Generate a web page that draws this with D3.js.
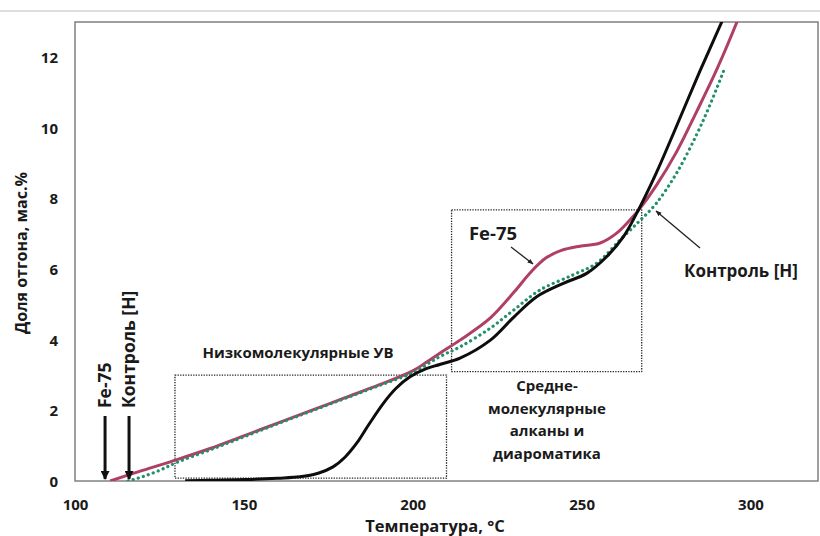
<!DOCTYPE html>
<html><head><meta charset="utf-8">
<script src="https://cdn.jsdelivr.net/npm/d3@7"></script>
<style>
html,body{margin:0;padding:0;background:#fff;}
svg text{font-family:"Open Sans",sans-serif;font-weight:700;fill:#1a1a1a;}
</style></head>
<body><svg id="c" width="820" height="536"></svg>
<script>
// ---- data ----
const xTicks = [100, 150, 200, 250, 300];
const yTicks = [0, 2, 4, 6, 8, 10, 12];

const fe75T = [110.4, 120, 130, 140, 150, 160, 170, 180, 190, 200, 204, 208, 214, 223, 230, 235, 239.5, 244, 249.5, 255.5, 260.4, 264.3, 267.3, 272, 278, 284, 290, 296, 297.2];
const fe75V = [0, 0.3, 0.6, 0.92, 1.28, 1.64, 2.0, 2.36, 2.72, 3.12, 3.36, 3.62, 3.99, 4.62, 5.35, 5.92, 6.32, 6.53, 6.65, 6.74, 7.02, 7.39, 7.72, 8.35, 9.3, 10.45, 11.65, 13.0, 13.3];

const blackT = [132.6, 140, 150, 160, 166.6, 172, 176.4, 180, 183.4, 187, 191.3, 195, 199.2, 204, 208, 214, 223, 230, 236.7, 244.6, 251.5, 257.4, 262.4, 266.3, 272, 277, 285, 291.5, 292.8];
const blackV = [0.01, 0.02, 0.04, 0.08, 0.12, 0.22, 0.4, 0.68, 1.07, 1.6, 2.2, 2.62, 2.95, 3.18, 3.3, 3.48, 3.99, 4.65, 5.22, 5.6, 5.88, 6.35, 6.92, 7.58, 8.7, 9.8, 11.6, 13.0, 13.3];

const controlT = [115.7, 120, 125, 130, 140, 150, 160, 170, 180, 190, 200, 208, 214, 223, 230, 237.7, 247.5, 254.5, 261.4, 267, 272, 278, 284, 288, 292];
const controlV = [0, 0.12, 0.3, 0.52, 0.88, 1.25, 1.62, 1.98, 2.34, 2.7, 3.07, 3.52, 3.8, 4.33, 4.85, 5.41, 5.84, 6.17, 6.83, 7.35, 7.85, 8.7, 9.8, 10.65, 11.6];

// annotation regions (data units)
const boxLowT = [129.6, 210]; const boxLowV = [0.08, 3.0];
const boxMidT = [211.5, 267.8]; const boxMidV = [3.1, 7.68];
const boxLowLabel = ["Низкомолекулярные УВ"];
const boxMidLabel = ["Средне-", "молекулярные", "алканы и", "диароматика"];
const startT = [108.9, 116.0];
const startLabels = ["Fe-75", "Контроль [H]"];

// ---- chart ----
const svg = d3.select("#c");
const L = 75, R = 818, T = 22, B = 481;
const x = d3.scaleLinear().domain([100, 320]).range([L, R]);
const y = d3.scaleLinear().domain([0, 13]).range([B, T]);

svg.append("line").attr("x1", 0).attr("x2", 820).attr("y1", 11).attr("y2", 11)
  .attr("stroke", "#d2d2d2").attr("stroke-width", 1.5);

const defs = svg.append("defs");
defs.append("clipPath").attr("id", "clip").append("rect")
  .attr("x", L).attr("y", T).attr("width", R - L).attr("height", B - T);
defs.append("marker").attr("id", "ah").attr("viewBox", "0 0 10 10")
  .attr("refX", 9).attr("refY", 5).attr("markerWidth", 9).attr("markerHeight", 9)
  .attr("markerUnits", "userSpaceOnUse").attr("orient", "auto")
  .append("path").attr("d", "M0,0 L10,5 L0,10 Z").attr("fill", "#111");
defs.append("marker").attr("id", "ahs").attr("viewBox", "0 0 10 10")
  .attr("refX", 9).attr("refY", 5).attr("markerWidth", 6).attr("markerHeight", 6)
  .attr("markerUnits", "userSpaceOnUse").attr("orient", "auto")
  .append("path").attr("d", "M0,1 L10,5 L0,9 Z").attr("fill", "#222");

// frame
svg.append("rect").attr("x", L).attr("y", T).attr("width", R - L).attr("height", B - T)
  .attr("fill", "none").attr("stroke", "#808080").attr("stroke-width", 1.5);

// axes (labels only)
const xAxis = d3.axisBottom(x).tickValues(xTicks).tickSize(0).tickPadding(0);
const gx = svg.append("g").attr("transform", `translate(0,${B})`).call(xAxis);
gx.select(".domain").remove();
gx.selectAll("text").attr("dy", "0").attr("y", 29).style("font-size", "15px").attr("fill", "#1a1a1a");

const yAxis = d3.axisLeft(y).tickValues(yTicks).tickSize(0).tickPadding(0);
const gy = svg.append("g").attr("transform", `translate(${L},0)`).call(yAxis);
gy.select(".domain").remove();
gy.selectAll("text").attr("x", -17).attr("dy", "0.35em").style("font-size", "15px").attr("fill", "#1a1a1a");

svg.append("text").attr("x", 435).attr("y", 532).attr("text-anchor", "middle")
  .style("font-size", "16.5px").text("Температура, °С");
svg.append("text").attr("transform", "translate(27,253) rotate(-90)").attr("text-anchor", "middle")
  .style("font-size", "16px").text("Доля отгона, мас.%");

// boxes
function box(tt, vv) {
  svg.append("rect").attr("x", x(tt[0])).attr("y", y(vv[1]))
    .attr("width", x(tt[1]) - x(tt[0])).attr("height", y(vv[0]) - y(vv[1]))
    .attr("fill", "none").attr("stroke", "#222").attr("stroke-width", 1.3)
    .attr("stroke-dasharray", "1.3 1.3");
}
box(boxLowT, boxLowV);
box(boxMidT, boxMidV);

// curves
const line = d3.line().x(d => x(d[0])).y(d => y(d[1])).curve(d3.curveCatmullRom.alpha(0.5));
const gc = svg.append("g").attr("clip-path", "url(#clip)");
gc.append("path").datum(d3.zip(fe75T, fe75V)).attr("d", line)
  .attr("fill", "none").attr("stroke", "#b03f68").attr("stroke-width", 3);
gc.append("path").datum(d3.zip(controlT, controlV)).attr("d", line)
  .attr("fill", "none").attr("stroke", "#23906c").attr("stroke-width", 3.2)
  .attr("stroke-linecap", "round").attr("stroke-dasharray", "0.1 5.2");
gc.append("path").datum(d3.zip(blackT, blackV)).attr("d", line)
  .attr("fill", "none").attr("stroke", "#0d0d0d").attr("stroke-width", 3);

// start arrows with vertical labels
startT.forEach((t, i) => {
  svg.append("line").attr("x1", x(t)).attr("x2", x(t)).attr("y1", 416).attr("y2", y(0) - 2)
    .attr("stroke", "#111").attr("stroke-width", 3).attr("marker-end", "url(#ah)");
  svg.append("text").attr("transform", `translate(${x(t) + 6},408) rotate(-90)`)
    .attr("text-anchor", "start").style("font-size", "17.5px").text(startLabels[i]);
});

// region labels
svg.append("text").attr("x", 298).attr("y", 358).attr("text-anchor", "middle")
  .style("font-size", "15px").text(boxLowLabel[0]);
boxMidLabel.forEach((s, i) => {
  svg.append("text").attr("x", 547).attr("y", 391 + i * 22.5).attr("text-anchor", "middle")
    .style("font-size", "15px").text(s);
});

// series labels with leaders
svg.append("text").attr("x", 493).attr("y", 240).attr("text-anchor", "middle")
  .style("font-size", "18.5px").text("Fe-75");
svg.append("line").attr("x1", 511).attr("y1", 247).attr("x2", 533).attr("y2", 264)
  .attr("stroke", "#222").attr("stroke-width", 1.3).attr("marker-end", "url(#ahs)");
svg.append("text").attr("x", 741).attr("y", 277).attr("text-anchor", "middle")
  .style("font-size", "17px").text("Контроль [H]");
svg.append("line").attr("x1", 700).attr("y1", 248).attr("x2", 656).attr("y2", 211)
  .attr("stroke", "#222").attr("stroke-width", 1.3).attr("marker-end", "url(#ahs)");
</script></body></html>
